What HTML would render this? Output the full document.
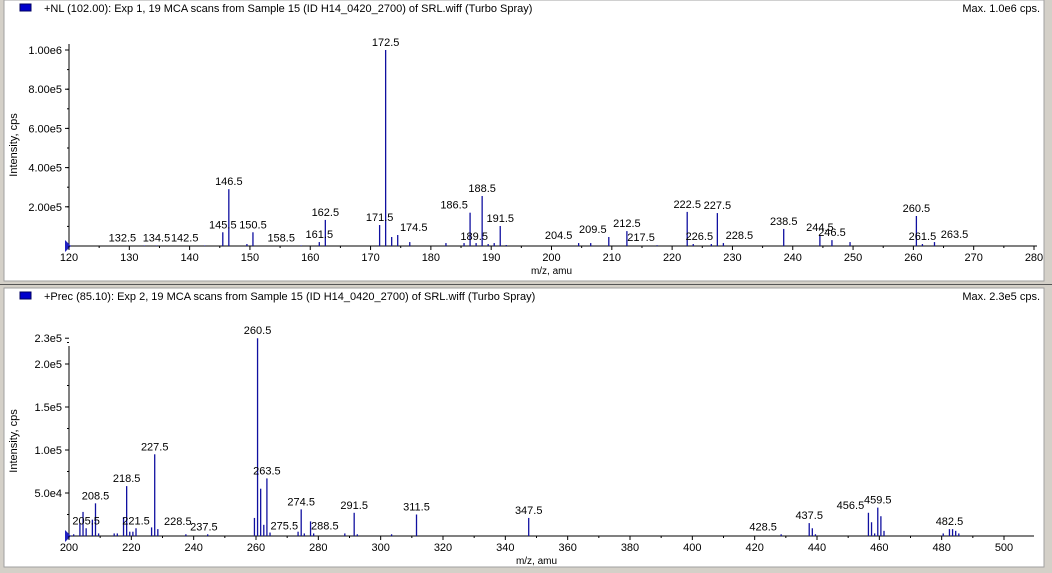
<!DOCTYPE html>
<html><head><meta charset="utf-8"><style>
body{margin:0;width:1052px;height:573px;background:#d4d0c8;overflow:hidden;font-family:"Liberation Sans",sans-serif}
svg{position:absolute;left:0;top:0}
text{font-family:"Liberation Sans",sans-serif;font-size:11px;fill:#000}
</style></head><body>
<svg id="chart" width="1052" height="573">
<rect x="0" y="0" width="1052" height="573" fill="#d4d0c8"/>
<rect x="4" y="0" width="1040" height="281" fill="#fff" stroke="#a0a0a0"/>
<line x1="0" y1="284.5" x2="1052" y2="284.5" stroke="#555"/>
<rect x="4" y="288" width="1040" height="279" fill="#fff" stroke="#a0a0a0"/>
<rect x="20" y="4" width="11" height="7" fill="#0000cc" stroke="#000060"/>
<text x="44" y="12">+NL (102.00): Exp 1, 19 MCA scans from Sample 15 (ID H14_0420_2700) of SRL.wiff (Turbo Spray)</text>
<text x="1040" y="12" text-anchor="end">Max. 1.0e6 cps.</text>
<rect x="20" y="292" width="11" height="7" fill="#0000cc" stroke="#000060"/>
<text x="44" y="300">+Prec (85.10): Exp 2, 19 MCA scans from Sample 15 (ID H14_0420_2700) of SRL.wiff (Turbo Spray)</text>
<text x="1040" y="300" text-anchor="end">Max. 2.3e5 cps.</text>
<g id="g1"></g><g id="g2"></g>
</svg>
<script>
// Top spectrum data
const topMz=[132.5,134.5,142.5,145.5,146.5,149.5,150.5,158.5,161.5,162.5,171.5,172.5,173.5,174.5,176.5,182.5,185.5,186.5,187.5,188.5,189.5,190.5,191.5,192.5,204.5,206.5,209.5,212.5,217.5,222.5,223.5,226.5,227.5,228.5,238.5,244.5,246.5,249.5,260.5,261.5,263.5];
const topInt=[3000,3000,3000,70000,290000,10000,70000,3000,20000,133000,107000,1000000,46000,56000,20000,15000,15000,170000,15000,255000,10000,15000,102000,5000,15000,15000,46000,76000,4000,174000,10000,10000,168000,15000,87000,56000,30000,20000,153000,10000,20000];
const topLabels=["132.5","134.5","142.5","145.5","146.5","150.5","158.5","161.5","162.5","171.5","172.5","174.5","186.5","188.5","189.5","191.5","204.5","209.5","212.5","217.5","222.5","226.5","227.5","228.5","238.5","244.5","246.5","260.5","261.5","263.5"];
const topLabelDx=[-16,0,-14,0,0,0,-14,0,0,0,0,10,-10,0,-8,0,-14,-10,0,-10,0,-6,0,10,0,0,0,0,0,14];
const topYTicks=[200000,400000,600000,800000,1000000];
const topYTickText=["2.00e5","4.00e5","6.00e5","8.00e5","1.00e6"];
const topXTicks=[120,130,140,150,160,170,180,190,200,210,220,230,240,250,260,270,280];
// Bottom spectrum data
const botMz=[201.5,203.5,204.5,205.5,207.5,208.5,209.5,214.5,215.5,217.5,218.5,219.5,220.5,221.5,226.5,227.5,228.5,237.5,244.5,259.5,260.5,261.5,262.5,263.5,264.5,273.5,274.5,275.5,277.5,278.5,288.5,291.5,292.5,303.5,311.5,347.5,428.5,437.5,438.5,439.5,456.5,457.5,458.5,459.5,460.5,461.5,480.5,482.5,483.5,484.5,485.5];
const botInt=[2000,15000,28000,9000,19000,38000,3000,3000,3000,22000,58000,5000,5000,9000,10000,95000,8000,2000,2000,21000,230000,55000,13000,67000,4000,5000,31000,3000,17000,3000,3000,27000,2000,2000,25000,21000,2000,15000,9000,2000,27000,16000,3000,33000,23000,6000,3000,8000,8000,6000,3000];
const botLabels=["205.5","208.5","218.5","221.5","227.5","228.5","237.5","260.5","263.5","274.5","275.5","288.5","291.5","311.5","347.5","428.5","437.5","456.5","459.5","482.5"];
const botLabelDx=[0,0,0,0,0,14,12,0,0,0,-14,-14,0,0,0,-12,0,-12,0,0];
const botYTicks=[50000,100000,150000,200000,230000];
const botYTickText=["5.0e4","1.0e5","1.5e5","2.0e5","2.3e5"];
const botXTicks=[200,220,240,260,280,300,320,340,360,380,400,420,440,460,480,500];
const NS="http://www.w3.org/2000/svg";
function mk(g,tag,a,txt){const e=document.createElementNS(NS,tag);for(const k in a)e.setAttribute(k,a[k]);if(txt!=null)e.textContent=txt;g.appendChild(e);return e;}
function draw(gid,c){
  const g=document.getElementById(gid);
  const X=v=>c.x0+(v-c.xmin)*(c.x1-c.x0)/(c.xmax-c.xmin);
  const Y=v=>c.yb-v*c.yscale;
  let e;
  e=mk(g,'line',{x1:c.x0,y1:c.yb,x2:c.xend,y2:c.yb,stroke:'#000'});
  
  
  e=mk(g,'line',{x1:c.x0,y1:c.yb,x2:c.x0,y2:c.ytop,stroke:'#000'});
  
  
  e=mk(g,'polygon',{points:`${c.x0-4},${c.yb-6} ${c.x0+2},${c.yb} ${c.x0-4},${c.yb+6}`,fill:'#2020c0'});
  
  
  const st=(c.xTicks[1]-c.xTicks[0])/2;
  for(let v=c.xmin;v<=c.xend_v;v+=st){
    const maj=c.xTicks.includes(v);
    e=mk(g,'line',{x1:X(v),y1:c.yb,x2:X(v),y2:c.yb+(maj?4:2),stroke:'#000'});
    
    
  }
  c.xTicks.forEach(v=>{
    e=mk(g,'text',{x:X(v),y:c.yb+15,'text-anchor':'middle'},String(v));
    
    
  });
  for(let v=c.yMinor;v<=c.ymaxTick;v+=c.yMinor){
    e=mk(g,'line',{x1:c.x0-2,y1:Y(v),x2:c.x0,y2:Y(v),stroke:'#000'});
    
    
  }
  c.yTicks.forEach((v,i)=>{
    e=mk(g,'line',{x1:c.x0-4,y1:Y(v),x2:c.x0,y2:Y(v),stroke:'#000'});
    
    
    e=mk(g,'text',{x:c.x0-7,y:Y(v)+4,'text-anchor':'end'},c.yTickText[i]);
    
    
  });
  e=mk(g,'text',{x:X((c.xmin+c.xend_v)/2),y:c.yb+28,'text-anchor':'middle',style:'font-size:10px'},'m/z, amu');
  
  
  const cy=(c.yb+c.ytop)/2;
  e=mk(g,'text',{x:17,y:cy,'text-anchor':'middle',transform:`rotate(-90 17 ${cy})`},'Intensity, cps');
  
  
  c.mz.forEach((m,i)=>{
    e=mk(g,'line',{x1:X(m),y1:c.yb,x2:X(m),y2:Y(c.inten[i]),stroke:'#1010a0','stroke-width':1.3});
    
    
  });
  c.labels.forEach((l,i)=>{
    const m=parseFloat(l);const k=c.mz.indexOf(m);const v=k>=0?c.inten[k]:0;
    const dx=c.ldx[i];
    const ty=Math.min(Y(v)-4,c.yb-4);
    const tx=X(m)+dx-(dx<0?6:dx>0?-6:0);
    e=mk(g,'text',{x:tx,y:ty,'text-anchor':'middle'},l);
    
    
  });
}
draw('g1',{x0:69,x1:1034,xmin:120,xmax:280,xend:1037,xend_v:280,yb:246,ytop:44,yscale:196/1e6,xTicks:topXTicks,yTicks:topYTicks,yTickText:topYTickText,yMinor:100000,ymaxTick:1000000,mz:topMz,inten:topInt,labels:topLabels,ldx:topLabelDx});
draw('g2',{x0:69,x1:1004,xmin:200,xmax:500,xend:1034,xend_v:500,yb:536,ytop:346,yscale:0.00086,xTicks:botXTicks,yTicks:botYTicks,yTickText:botYTickText,yMinor:25000,ymaxTick:225000,mz:botMz,inten:botInt,labels:botLabels,ldx:botLabelDx});
</script>
</body></html>
